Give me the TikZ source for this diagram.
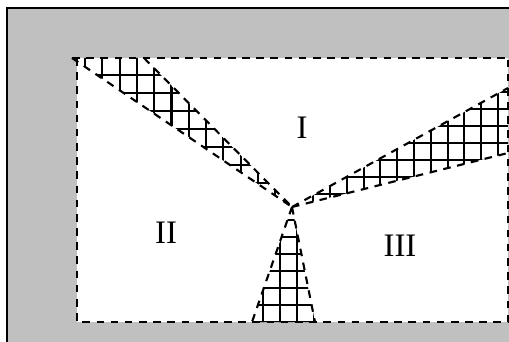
\documentclass[tikz,border=0pt]{standalone}
\usepackage{fontspec}
\setmainfont{Liberation Serif}
\usetikzlibrary{calc}
\definecolor{framegray}{RGB}{192,192,192}
\tikzset{
  bound/.style={line width=1.8pt, dash pattern=on 6.5pt off 5.6pt},
  hatch/.style={line width=1.8pt},
  region/.style={font=\fontsize{28}{30}\selectfont, inner sep=0pt}
}
\begin{document}
\begin{tikzpicture}[x=0.03cm, y=-0.03cm]
  % picture is 509 x 342 px, 1 px = 0.03 cm, y pointing down
  \useasboundingbox (0,0) rectangle (509,342);
  \clip (0,0) rectangle (509,342);

  % gray frame and white domain
  \draw[line width=1.6pt, fill=framegray] (7,8) rectangle (540,370);
  \fill[white] (77,58) rectangle (508,322);

  % wedge corners
  \coordinate (O) at (292,207);
  \coordinate (TL1) at (72,58);
  \coordinate (TL2) at (144,58);
  \coordinate (R1) at (508,88);
  \coordinate (R2) at (508,153);
  \coordinate (B1) at (252,322);
  \coordinate (B2) at (315,322);

  % hatching, top-left wedge
  \begin{scope}
    \clip (TL1) -- (TL2) -- (O) -- cycle;
    \foreach \k in {0,...,12} \draw[hatch] (85+17.3*\k,50) -- ++(0,170);
    \foreach \k in {0,...,8} \draw[hatch] (60,75+18*\k) -- ++(240,0);
  \end{scope}

  % hatching, right wedge
  \begin{scope}
    \clip (O) -- (R1) -- (R2) -- cycle;
    \foreach \k in {0,...,13} \draw[hatch] (296.4+16.8*\k,80) -- ++(0,135);
    \foreach \k in {0,...,7} \draw[hatch] (285,92+17*\k) -- ++(230,0);
  \end{scope}

  % hatching, bottom wedge
  \begin{scope}
    \clip (O) -- (B1) -- (B2) -- cycle;
    \foreach \k in {0,...,4} \draw[hatch] (246.4+16.8*\k,200) -- ++(0,130);
    \foreach \k in {0,...,6} \draw[hatch] (240,220+17*\k) -- ++(90,0);
  \end{scope}

  % dashed boundaries
  \draw[bound] (TL1) -- (508,58);
  \draw[bound] (77,58) -- (77,322) -- (508,322) -- (508,58);
  \draw[bound] (TL1) -- (O) (TL2) -- (O);
  \draw[bound] (O) -- (R1) (O) -- (R2);
  \draw[bound] (O) -- (B1) (O) -- (B2);

  % region labels
  \node[region] (regI) at (302,128) {I};
  \node[region] (regII) at (166,233) {II};
  \node[region] (regIII) at (400,246) {III};
\end{tikzpicture}
\end{document}
